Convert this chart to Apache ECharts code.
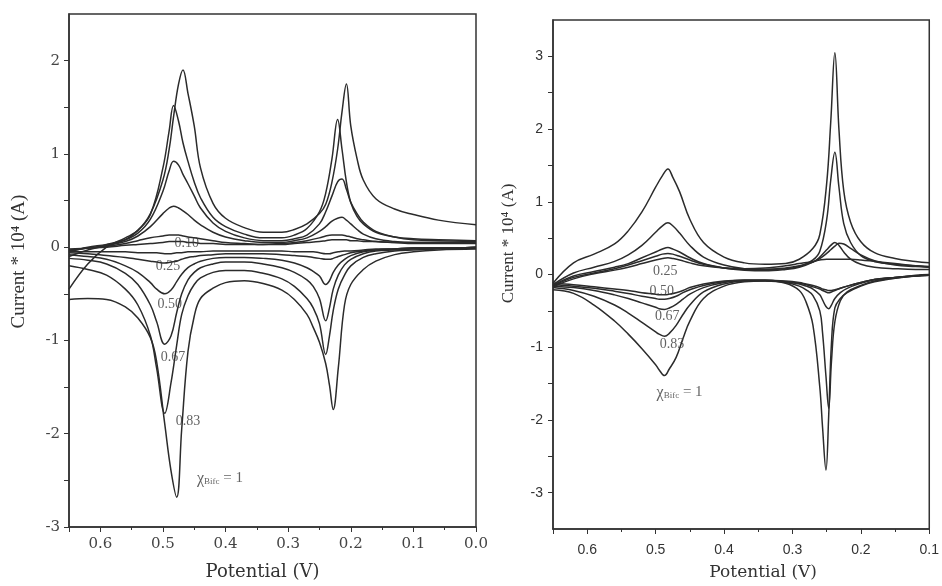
<!DOCTYPE html>
<html><head><meta charset="utf-8">
<script src="https://cdn.jsdelivr.net/npm/echarts@6/dist/echarts.min.js"></script>
<style>html,body{margin:0;padding:0;background:#fff}#c{width:942px;height:586px}</style>
</head><body><div id="c"></div>
<script>
// ---------- Left panel (potential grid, V) ----------
const xUpL = [0.65,0.62,0.59,0.56,0.54,0.52,0.50,0.49,0.483,0.475,0.468,0.46,0.45,0.44,0.42,0.40,0.37,0.34,0.31,0.29,0.27,0.25,0.24,0.23,0.221,0.214,0.207,0.20,0.19,0.18,0.16,0.13,0.10,0.06,0.0];
const xDnL = [0.65,0.62,0.59,0.56,0.54,0.52,0.51,0.497,0.487,0.478,0.47,0.46,0.45,0.44,0.42,0.40,0.37,0.34,0.31,0.29,0.27,0.26,0.25,0.24,0.234,0.228,0.22,0.21,0.20,0.18,0.16,0.13,0.10,0.06,0.0];

// anodic (upper) branches, current * 10^4 A
const upL_100 = [-0.45,-0.18,0.0,0.10,0.18,0.36,0.72,1.05,1.40,1.75,1.90,1.65,1.30,0.85,0.47,0.31,0.21,0.16,0.16,0.19,0.25,0.36,0.46,0.70,1.05,1.45,1.75,1.30,0.95,0.72,0.52,0.41,0.35,0.29,0.24];
const upL_083 = [-0.10,-0.03,0.02,0.08,0.18,0.35,0.85,1.25,1.52,1.35,1.12,0.92,0.70,0.53,0.32,0.22,0.14,0.10,0.10,0.13,0.20,0.38,0.58,0.95,1.37,1.05,0.70,0.48,0.33,0.25,0.16,0.11,0.09,0.08,0.07];
const upL_067 = [-0.05,0.0,0.03,0.08,0.15,0.30,0.60,0.82,0.92,0.88,0.78,0.68,0.55,0.42,0.26,0.17,0.10,0.07,0.07,0.09,0.13,0.25,0.38,0.55,0.70,0.73,0.62,0.48,0.36,0.27,0.17,0.11,0.08,0.07,0.06];
const upL_050 = [-0.04,-0.01,0.02,0.06,0.12,0.22,0.36,0.42,0.44,0.42,0.39,0.35,0.29,0.24,0.16,0.11,0.07,0.05,0.05,0.07,0.10,0.17,0.22,0.28,0.31,0.32,0.29,0.25,0.19,0.14,0.09,0.06,0.05,0.05,0.05];
const upL_025 = [-0.03,-0.01,0.01,0.04,0.07,0.10,0.12,0.13,0.13,0.13,0.12,0.11,0.10,0.09,0.07,0.05,0.04,0.03,0.04,0.05,0.07,0.10,0.12,0.13,0.13,0.13,0.12,0.11,0.09,0.08,0.06,0.05,0.04,0.04,0.04];
const upL_010 = [-0.02,-0.01,0.0,0.02,0.03,0.04,0.05,0.06,0.06,0.06,0.06,0.05,0.05,0.04,0.04,0.03,0.03,0.03,0.03,0.04,0.05,0.06,0.07,0.08,0.08,0.08,0.08,0.07,0.07,0.06,0.06,0.05,0.05,0.05,0.05];
// cathodic (lower) branches
const dnL_100 = [-0.56,-0.55,-0.56,-0.64,-0.76,-0.97,-1.23,-1.90,-2.40,-2.68,-1.95,-1.12,-0.74,-0.55,-0.44,-0.38,-0.36,-0.39,-0.46,-0.56,-0.72,-0.86,-1.02,-1.25,-1.48,-1.74,-1.30,-0.62,-0.40,-0.24,-0.15,-0.08,-0.05,-0.03,-0.02];
const dnL_083 = [-0.20,-0.24,-0.30,-0.45,-0.62,-0.95,-1.30,-1.78,-1.45,-1.05,-0.72,-0.52,-0.40,-0.33,-0.27,-0.25,-0.25,-0.28,-0.34,-0.42,-0.55,-0.65,-0.82,-1.15,-0.95,-0.68,-0.45,-0.30,-0.20,-0.11,-0.07,-0.04,-0.03,-0.02,-0.01];
const dnL_067 = [-0.12,-0.14,-0.18,-0.28,-0.40,-0.62,-0.80,-1.04,-0.95,-0.70,-0.50,-0.35,-0.27,-0.22,-0.18,-0.16,-0.16,-0.18,-0.22,-0.27,-0.35,-0.42,-0.55,-0.79,-0.65,-0.45,-0.30,-0.19,-0.13,-0.07,-0.04,-0.03,-0.02,-0.01,-0.01];
const dnL_050 = [-0.08,-0.10,-0.13,-0.20,-0.27,-0.38,-0.45,-0.50,-0.46,-0.37,-0.29,-0.22,-0.18,-0.15,-0.12,-0.11,-0.11,-0.12,-0.14,-0.17,-0.22,-0.26,-0.31,-0.40,-0.36,-0.27,-0.19,-0.13,-0.09,-0.05,-0.03,-0.02,-0.01,-0.01,0.0];
const dnL_025 = [-0.06,-0.07,-0.09,-0.11,-0.13,-0.15,-0.16,-0.17,-0.16,-0.15,-0.13,-0.11,-0.10,-0.09,-0.08,-0.07,-0.07,-0.07,-0.08,-0.09,-0.10,-0.11,-0.12,-0.13,-0.13,-0.12,-0.10,-0.08,-0.06,-0.04,-0.03,-0.02,-0.01,-0.01,0.0];
const dnL_010 = [-0.05,-0.05,-0.05,-0.05,-0.06,-0.06,-0.06,-0.07,-0.07,-0.06,-0.06,-0.05,-0.05,-0.05,-0.04,-0.04,-0.04,-0.04,-0.04,-0.05,-0.05,-0.05,-0.06,-0.07,-0.07,-0.06,-0.05,-0.04,-0.04,-0.03,-0.02,-0.02,-0.01,-0.01,0.0];

// ---------- Right panel ----------
const xUpR = [0.65,0.62,0.59,0.56,0.54,0.52,0.50,0.49,0.482,0.475,0.465,0.45,0.43,0.40,0.37,0.34,0.31,0.29,0.27,0.26,0.25,0.244,0.238,0.232,0.225,0.215,0.20,0.18,0.15,0.12,0.10];
const xDnR = [0.65,0.62,0.59,0.56,0.54,0.52,0.50,0.495,0.487,0.48,0.47,0.46,0.45,0.43,0.40,0.37,0.34,0.31,0.29,0.28,0.27,0.26,0.256,0.251,0.247,0.243,0.238,0.23,0.22,0.20,0.18,0.15,0.12,0.10];

const upR_100 = [-0.12,0.16,0.28,0.42,0.60,0.86,1.20,1.36,1.45,1.34,1.14,0.76,0.44,0.24,0.16,0.14,0.15,0.21,0.36,0.55,1.25,2.10,3.05,1.99,1.15,0.72,0.45,0.30,0.22,0.18,0.16];
const upR_083 = [-0.14,0.02,0.10,0.18,0.27,0.40,0.58,0.67,0.71,0.67,0.57,0.40,0.24,0.13,0.08,0.07,0.08,0.11,0.20,0.32,0.75,1.30,1.68,1.20,0.70,0.44,0.26,0.18,0.14,0.12,0.11];
const upR_067 = [-0.15,-0.02,0.04,0.10,0.15,0.23,0.31,0.35,0.37,0.35,0.31,0.23,0.15,0.09,0.06,0.05,0.07,0.10,0.17,0.24,0.34,0.40,0.44,0.40,0.31,0.21,0.14,0.10,0.08,0.07,0.07];
const upR_050 = [-0.16,-0.04,0.02,0.08,0.13,0.19,0.25,0.28,0.29,0.28,0.25,0.20,0.14,0.09,0.07,0.07,0.09,0.12,0.17,0.22,0.29,0.34,0.39,0.43,0.42,0.36,0.27,0.19,0.13,0.11,0.10];
const upR_025 = [-0.17,-0.06,0.01,0.06,0.10,0.15,0.20,0.22,0.23,0.22,0.20,0.16,0.12,0.09,0.08,0.09,0.12,0.15,0.18,0.20,0.21,0.21,0.21,0.21,0.21,0.21,0.20,0.18,0.15,0.12,0.10];

const dnR_100 = [-0.21,-0.26,-0.42,-0.64,-0.82,-1.02,-1.24,-1.31,-1.39,-1.30,-1.14,-0.88,-0.64,-0.33,-0.16,-0.10,-0.09,-0.12,-0.22,-0.38,-0.70,-1.55,-2.10,-2.69,-1.94,-0.95,-0.46,-0.33,-0.25,-0.16,-0.10,-0.05,-0.01,0.0];
const dnR_083 = [-0.18,-0.22,-0.30,-0.42,-0.53,-0.66,-0.79,-0.82,-0.85,-0.81,-0.70,-0.55,-0.42,-0.24,-0.13,-0.09,-0.09,-0.11,-0.16,-0.21,-0.29,-0.50,-0.80,-1.40,-1.84,-1.20,-0.65,-0.36,-0.24,-0.15,-0.09,-0.05,-0.02,-0.01];
const dnR_067 = [-0.16,-0.18,-0.22,-0.28,-0.33,-0.39,-0.45,-0.47,-0.48,-0.46,-0.41,-0.34,-0.27,-0.18,-0.11,-0.08,-0.08,-0.10,-0.13,-0.16,-0.20,-0.28,-0.35,-0.44,-0.47,-0.42,-0.33,-0.25,-0.19,-0.12,-0.07,-0.04,-0.02,-0.01];
const dnR_050 = [-0.14,-0.16,-0.19,-0.23,-0.26,-0.30,-0.33,-0.34,-0.34,-0.33,-0.30,-0.25,-0.21,-0.15,-0.10,-0.08,-0.08,-0.10,-0.12,-0.14,-0.17,-0.20,-0.22,-0.24,-0.25,-0.24,-0.22,-0.19,-0.16,-0.11,-0.07,-0.04,-0.02,-0.01];
const dnR_025 = [-0.12,-0.14,-0.17,-0.20,-0.22,-0.25,-0.27,-0.28,-0.28,-0.27,-0.25,-0.22,-0.18,-0.13,-0.09,-0.08,-0.08,-0.09,-0.11,-0.13,-0.15,-0.18,-0.20,-0.21,-0.22,-0.22,-0.21,-0.19,-0.16,-0.11,-0.07,-0.04,-0.02,-0.01];

// ---------- curve annotations (data coordinates) ----------
const annTextL = ['0.10','0.25','0.50','0.67','0.83','chi'];
const annXL = [0.462,0.492,0.489,0.484,0.46,0.409];
const annYL = [0.04,-0.21,-0.61,-1.18,-1.87,-2.48];
const annTextR = ['0.25','0.50','0.67','0.83','chi'];
const annXR = [0.486,0.491,0.483,0.476,0.465];
const annYR = [0.045,-0.23,-0.57,-0.96,-1.62];

const xTicksFmt = v => v.toFixed(1);
const LINE = '#2b2b2b';

function zip(xs, ys){ return xs.map((x,i)=>[x, ys[i]]); }
function curve(xs, ys, gi){
  return {type:'line', xAxisIndex:gi, yAxisIndex:gi, data:zip(xs,ys), symbol:'none',
    smooth:0.4, lineStyle:{color:LINE, width:1.5}, silent:true, z:3};
}
function ann(texts, xs, ys, gi, fs){
  return {type:'scatter', xAxisIndex:gi, yAxisIndex:gi, symbolSize:0, silent:true, z:5,
    data: texts.map((t,i)=>({value:[xs[i], ys[i]], name:t})),
    label:{show:true, position:'inside', color:'#3a3a3a', fontFamily:'Liberation Serif', fontSize:fs,
      formatter: p => p.name==='chi' ? '{c|χ}{s|Bifc}{n| = 1}' : p.name,
      rich:{c:{fontSize:fs+2, fontFamily:'Liberation Serif', color:'#3a3a3a'},
            s:{fontSize:9, fontFamily:'Liberation Serif', color:'#3a3a3a', verticalAlign:'bottom', padding:[5,0,0,0]},
            n:{fontSize:fs+1, fontFamily:'Liberation Serif', color:'#3a3a3a'}}}};
}

const series = [];
[[upL_100,dnL_100],[upL_083,dnL_083],[upL_067,dnL_067],[upL_050,dnL_050],[upL_025,dnL_025],[upL_010,dnL_010]]
  .forEach(([u,d]) => { series.push(curve(xUpL,u,0)); series.push(curve(xDnL,d,0)); });
[[upR_100,dnR_100],[upR_083,dnR_083],[upR_067,dnR_067],[upR_050,dnR_050],[upR_025,dnR_025]]
  .forEach(([u,d]) => { series.push(curve(xUpR,u,1)); series.push(curve(xDnR,d,1)); });
series.push(ann(annTextL, annXL, annYL, 0, 14));
series.push(ann(annTextR, annXR, annYR, 1, 14));

const axisLine = {show:true, onZero:false, lineStyle:{color:'#333', width:1.5}};
const chart = echarts.init(document.getElementById('c'), null, {renderer:'canvas'});
chart.setOption({
  animation:false,
  backgroundColor:'#fff',
  grid:[
    {left:69, top:14, width:407, height:515, show:true, borderColor:'#333', borderWidth:1.5, backgroundColor:'transparent'},
    {left:553, top:20, width:382, height:510, show:true, borderColor:'#333', borderWidth:1.5, backgroundColor:'transparent'}
  ],
  xAxis:[
    {type:'value', gridIndex:0, inverse:true, min:0, max:0.65, interval:0.1, position:'bottom',
     axisLine, axisTick:{show:true, length:5, lineStyle:{color:'#333'}},
     minorTick:{show:true, splitNumber:2, length:3, lineStyle:{color:'#333'}},
     splitLine:{show:false}, minorSplitLine:{show:false},
     axisLabel:{formatter:xTicksFmt, showMaxLabel:false, showMinLabel:true, color:'#444', fontFamily:'DejaVu Serif', fontSize:15, margin:10},
     name:'Potential (V)', nameLocation:'middle', nameGap:36,
     nameTextStyle:{fontFamily:'DejaVu Serif', fontSize:18, color:'#333', padding:[0,20,0,0]}},
    {type:'value', gridIndex:1, inverse:true, min:0.1, max:0.65, interval:0.1, position:'bottom',
     axisLine, axisTick:{show:true, length:5, lineStyle:{color:'#333'}},
     minorTick:{show:true, splitNumber:2, length:3, lineStyle:{color:'#333'}},
     splitLine:{show:false}, minorSplitLine:{show:false},
     axisLabel:{formatter:xTicksFmt, showMaxLabel:false, showMinLabel:true, color:'#333', fontFamily:'Liberation Sans', fontSize:14, margin:14},
     name:'Potential (V)', nameLocation:'middle', nameGap:35,
     nameTextStyle:{fontFamily:'DejaVu Serif', fontSize:17, color:'#333', padding:[0,0,0,44]}}
  ],
  yAxis:[
    {type:'value', gridIndex:0, min:-3, max:2.5, interval:0.5, position:'left',
     axisLine, axisTick:{show:true, length:5, lineStyle:{color:'#333'}},
     splitLine:{show:false},
     axisLabel:{formatter: v => Number.isInteger(v) ? String(v) : '', showMaxLabel:false, color:'#444', fontFamily:'DejaVu Serif', fontSize:15, margin:9},
     name:'Current * 10\u2074 (A)', nameLocation:'middle', nameGap:40, nameRotate:90,
     nameTextStyle:{fontFamily:'Liberation Serif', fontSize:19, color:'#333', padding:[0,0,0,18]}},
    {type:'value', gridIndex:1, min:-3.5, max:3.5, interval:0.5, position:'left',
     axisLine, axisTick:{show:true, length:5, lineStyle:{color:'#333'}},
     splitLine:{show:false},
     axisLabel:{formatter: v => Number.isInteger(v) ? String(v) : '', showMaxLabel:false, showMinLabel:false, color:'#333', fontFamily:'Liberation Sans', fontSize:14, margin:10},
     name:'Current * 10\u2074 (A)', nameLocation:'middle', nameGap:36, nameRotate:90,
     nameTextStyle:{fontFamily:'Liberation Serif', fontSize:17, color:'#333', padding:[0,0,0,62]}}
  ],
  series
});
</script></body></html>
